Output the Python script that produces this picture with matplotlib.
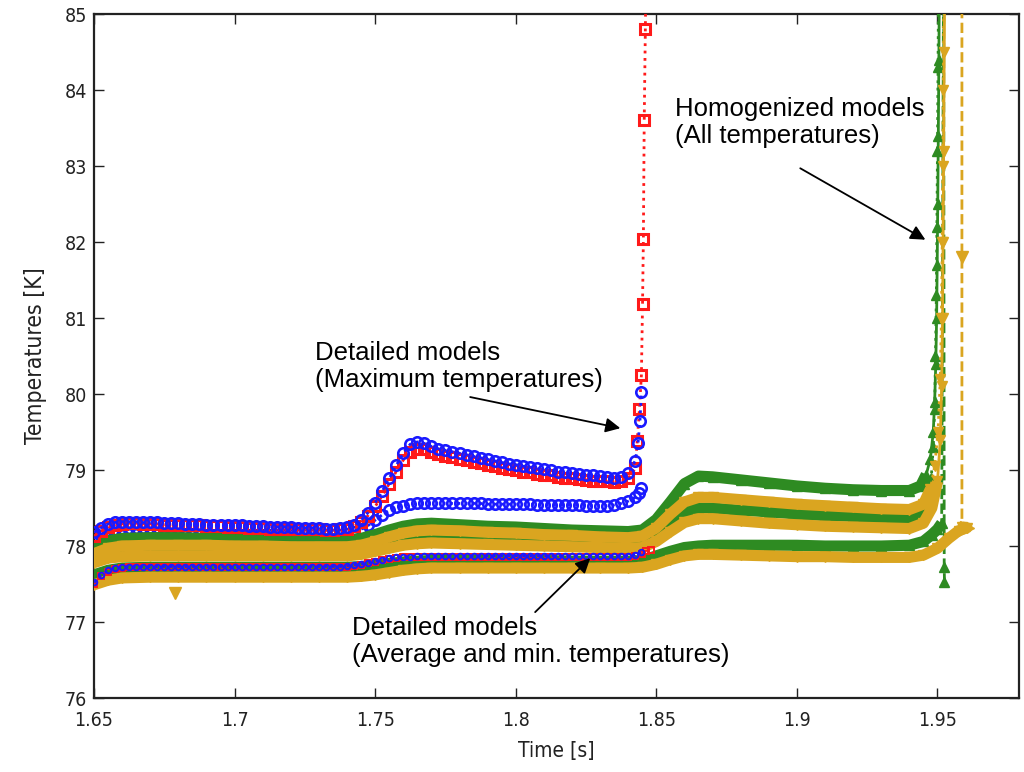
import numpy as np
import matplotlib
matplotlib.use("Agg")
import matplotlib.pyplot as plt

# ---------------- data ----------------
X_TICKS = [1.65, 1.70, 1.75, 1.80, 1.85, 1.90, 1.95]
X_TICK_LABELS = ["1.65", "1.7", "1.75", "1.8", "1.85", "1.9", "1.95"]
Y_TICKS = [76, 77, 78, 79, 80, 81, 82, 83, 84, 85]
Y_TICK_LABELS = ["76", "77", "78", "79", "80", "81", "82", "83", "84", "85"]

# Detailed models, sampled every 2.5 ms from t = 1.65 s
DET_T0 = 1.65
DET_DT = 0.0025

blue_max = [78.18, 78.24, 78.29, 78.31, 78.32,
            78.32, 78.32, 78.31, 78.31, 78.31, 78.30, 78.30, 78.30, 78.29, 78.29,
            78.29, 78.28, 78.28, 78.28, 78.27, 78.27, 78.27, 78.26, 78.26, 78.26,
            78.25, 78.25, 78.25, 78.25, 78.24, 78.24, 78.24, 78.24, 78.23, 78.23, 78.24,
            78.25, 78.28, 78.34, 78.44, 78.57, 78.72, 78.89, 79.06, 79.22, 79.34,
            79.37, 79.35, 79.31,
            79.28, 79.26, 79.24, 79.22, 79.20, 79.18, 79.16, 79.14, 79.12, 79.10,
            79.08, 79.07, 79.05, 79.04, 79.02, 79.01, 79.00, 78.98, 78.97, 78.96,
            78.95, 78.94, 78.93, 78.92, 78.91, 78.90, 78.91, 78.96,
            79.12]
blue_max_tail_t = [1.8435, 1.8442, 1.8447]
blue_max_tail_v = [79.35, 79.65, 80.03]

red_max = [78.13, 78.20, 78.25, 78.28, 78.29,
           78.30, 78.30, 78.29, 78.29, 78.29, 78.28, 78.28, 78.28, 78.27, 78.27,
           78.27, 78.26, 78.26, 78.26, 78.25, 78.25, 78.25, 78.24, 78.24, 78.24,
           78.23, 78.23, 78.23, 78.23, 78.22, 78.22, 78.22, 78.22, 78.21, 78.21, 78.22,
           78.23, 78.26, 78.31, 78.40, 78.52, 78.66, 78.82, 78.98, 79.13, 79.24,
           79.28, 79.27, 79.24,
           79.21, 79.19, 79.17, 79.15, 79.13, 79.11, 79.09, 79.07, 79.05, 79.03,
           79.01, 79.00, 78.98, 78.97, 78.95, 78.94, 78.93, 78.91, 78.90, 78.89,
           78.88, 78.87, 78.86, 78.85, 78.85, 78.84, 78.85, 78.89,
           79.02]
red_max_tail_t = [1.8432, 1.8440, 1.8447, 1.8451, 1.8454, 1.8457, 1.8461, 1.8465]
red_max_tail_v = [79.38, 79.80, 80.25, 81.18, 82.04, 83.60, 84.80, 86.00]

blue_mid = [77.97, 78.06, 78.11, 78.14, 78.15,
            78.16, 78.16, 78.16, 78.16, 78.16, 78.16, 78.16, 78.16, 78.16, 78.16,
            78.15, 78.15, 78.15, 78.15, 78.15, 78.15, 78.15, 78.15, 78.15, 78.15,
            78.15, 78.15, 78.15, 78.15, 78.15, 78.15, 78.15, 78.15, 78.15, 78.15, 78.15,
            78.16, 78.18, 78.22, 78.27, 78.34, 78.41, 78.47, 78.51, 78.53, 78.55,
            78.56, 78.56, 78.56,
            78.56, 78.56, 78.56, 78.56, 78.56, 78.56, 78.56, 78.55, 78.55, 78.55,
            78.55, 78.55, 78.55, 78.55, 78.54, 78.54, 78.54, 78.54, 78.54, 78.54,
            78.54, 78.53, 78.53, 78.53, 78.53, 78.54, 78.56, 78.59,
            78.64]
blue_mid_tail_t = [1.8437, 1.8447]
blue_mid_tail_v = [78.70, 78.76]

blue_low = [77.52, 77.62, 77.68, 77.71, 77.72,
            77.73, 77.73, 77.73, 77.73, 77.73, 77.73, 77.73, 77.73, 77.73, 77.73,
            77.73, 77.73, 77.73, 77.73, 77.73, 77.73, 77.73, 77.73, 77.73, 77.73,
            77.73, 77.73, 77.73, 77.73, 77.73, 77.73, 77.73, 77.73, 77.73, 77.73, 77.73,
            77.74, 77.75, 77.76, 77.78, 77.80, 77.82, 77.84, 77.85, 77.86, 77.86,
            77.87, 77.87, 77.87,
            77.87, 77.87, 77.87, 77.87, 77.87, 77.87, 77.87, 77.87, 77.87, 77.87,
            77.87, 77.87, 77.87, 77.87, 77.87, 77.87, 77.87, 77.87, 77.87, 77.87,
            77.87, 77.87, 77.87, 77.87, 77.87, 77.87, 77.87, 77.87,
            77.88]
blue_low_tail_t = [1.8445]
blue_low_tail_v = [77.92]

red_low = [77.50, 77.60, 77.66, 77.70, 77.71,
           77.72, 77.72, 77.72, 77.72, 77.72, 77.72, 77.72, 77.72, 77.72, 77.72,
           77.72, 77.72, 77.72, 77.72, 77.72, 77.72, 77.72, 77.72, 77.72, 77.72,
           77.72, 77.72, 77.72, 77.72, 77.72, 77.72, 77.72, 77.72, 77.72, 77.72, 77.72,
           77.73, 77.74, 77.75, 77.77, 77.79, 77.81, 77.83, 77.84, 77.85, 77.85,
           77.86, 77.86, 77.86,
           77.86, 77.86, 77.86, 77.86, 77.86, 77.86, 77.86, 77.86, 77.86, 77.86,
           77.86, 77.86, 77.86, 77.86, 77.86, 77.86, 77.86, 77.86, 77.86, 77.86,
           77.86, 77.86, 77.86, 77.86, 77.86, 77.86, 77.86, 77.86,
           77.87]
red_low_tail_t = [1.8450, 1.8465, 1.8480]
red_low_tail_v = [77.90, 77.93, 77.95]

# Homogenized models, shared sample times over the plateau
T_HOM = [1.65, 1.655, 1.66, 1.67, 1.68, 1.69, 1.70, 1.71, 1.72, 1.73, 1.74,
         1.745, 1.75, 1.755, 1.76, 1.765, 1.77, 1.78, 1.79, 1.80, 1.81, 1.82,
         1.83, 1.84, 1.845, 1.85, 1.855, 1.86, 1.865, 1.87, 1.88, 1.89, 1.90,
         1.91, 1.92, 1.93, 1.94]

green_1 = [77.98, 78.07, 78.10, 78.11, 78.11, 78.10, 78.10, 78.09, 78.09, 78.08, 78.08,
           78.10, 78.15, 78.21, 78.26, 78.29, 78.30, 78.28, 78.26, 78.25, 78.23, 78.21,
           78.20, 78.19, 78.21, 78.35, 78.58, 78.82, 78.92, 78.91, 78.87, 78.83, 78.79,
           78.76, 78.74, 78.73, 78.73]
green_1_tail_t = [1.944, 1.946, 1.9475, 1.9485, 1.949, 1.9494, 1.9497, 1.9499,
                  1.9501, 1.9503, 1.9505, 1.9507]
green_1_tail_v = [78.79, 78.94, 79.15, 79.50, 79.90, 80.40, 81.00, 81.70,
                  82.50, 83.40, 84.40, 85.50]

gold_1 = [77.90, 77.97, 78.00, 78.01, 78.01, 78.01, 78.00, 78.00, 77.99, 77.99, 77.99,
          78.01, 78.06, 78.12, 78.17, 78.20, 78.21, 78.20, 78.18, 78.17, 78.15, 78.14,
          78.12, 78.11, 78.13, 78.24, 78.42, 78.58, 78.64, 78.64, 78.61, 78.58, 78.55,
          78.53, 78.51, 78.49, 78.48]
gold_1_tail_t = [1.945, 1.9475, 1.949, 1.9502, 1.951, 1.9514, 1.9517, 1.9519,
                 1.9521, 1.9523]
gold_1_tail_v = [78.55, 78.75, 79.05, 79.50, 80.20, 81.00, 82.00, 83.00,
                 84.00, 85.50]

green_2 = [77.82, 77.88, 77.91, 77.92, 77.92, 77.92, 77.92, 77.92, 77.92, 77.92, 77.92,
           77.94, 77.99, 78.05, 78.10, 78.12, 78.13, 78.12, 78.11, 78.10, 78.09, 78.07,
           78.06, 78.05, 78.07, 78.15, 78.30, 78.44, 78.50, 78.50, 78.47, 78.45, 78.42,
           78.40, 78.39, 78.37, 78.37]
green_2_tail_t = [1.9445, 1.9465, 1.9478, 1.9485, 1.949, 1.9493, 1.9496, 1.9498,
                  1.950, 1.9502, 1.9504]
green_2_tail_v = [78.43, 78.60, 78.90, 79.30, 79.80, 80.50, 81.30, 82.20,
                  83.20, 84.30, 85.50]

gold_2 = [77.78, 77.84, 77.86, 77.87, 77.87, 77.87, 77.87, 77.87, 77.87, 77.87, 77.87,
          77.89, 77.93, 77.97, 78.01, 78.03, 78.04, 78.03, 78.02, 78.01, 78.00, 77.99,
          77.98, 77.97, 77.98, 78.06, 78.19, 78.31, 78.36, 78.36, 78.33, 78.30, 78.28,
          78.26, 78.25, 78.24, 78.23]
gold_2_tail_t = [1.945, 1.948, 1.950, 1.951, 1.9515, 1.9518, 1.952, 1.9522,
                 1.9524, 1.9526]
gold_2_tail_v = [78.30, 78.50, 78.85, 79.40, 80.10, 81.00, 82.00, 83.20,
                 84.50, 85.50]

green_3 = [77.62, 77.68, 77.71, 77.72, 77.72, 77.72, 77.72, 77.72, 77.72, 77.72, 77.72,
           77.73, 77.75, 77.77, 77.79, 77.80, 77.81, 77.81, 77.81, 77.81, 77.81, 77.80,
           77.80, 77.80, 77.81, 77.87, 77.93, 77.98, 78.00, 78.01, 78.01, 78.01, 78.01,
           78.00, 78.00, 78.00, 78.01]
green_3_tail_t = [1.945, 1.948, 1.950, 1.9515, 1.9522, 1.9524, 1.9525]
green_3_tail_v = [78.06, 78.15, 78.22, 78.30, 86.00, 77.72, 77.52]

gold_3 = [77.49, 77.55, 77.58, 77.59, 77.59, 77.59, 77.59, 77.59, 77.59, 77.59, 77.59,
          77.60, 77.62, 77.65, 77.68, 77.70, 77.71, 77.71, 77.71, 77.71, 77.71, 77.71,
          77.71, 77.71, 77.72, 77.76, 77.82, 77.87, 77.89, 77.89, 77.88, 77.87, 77.86,
          77.86, 77.85, 77.85, 77.85]
gold_3_tail_t = [1.945, 1.950, 1.954, 1.9575, 1.9605, 1.9587, 1.9587]
gold_3_tail_v = [77.88, 77.97, 78.10, 78.20, 78.24, 78.25, 86.00]
# sparse symbols of the dashed gold curve
gold_3_marks_t = [1.6788, 1.9587]
gold_3_marks_v = [77.38, 81.80]

# ---------------- style ----------------
RED = "#ff1a1a"
BLUE = "#1a1aff"
GREEN = "#2e8b22"
GOLD = "#daa520"

ANN_FONT = ["Liberation Sans", "Arial", "DejaVu Sans"]
AX_FONT = ["DejaVu Sans"]

fig = plt.figure(figsize=(10.24, 7.72), dpi=100)
ax = fig.add_axes([94 / 1024, 1 - 698 / 772, (1019 - 94) / 1024, (698 - 14) / 772])


def det_series(values, tail_t, tail_v):
    t = list(DET_T0 + DET_DT * np.arange(len(values))) + list(tail_t)
    return np.array(t), np.array(list(values) + list(tail_v))


def hom_series(values, tail_t, tail_v):
    return np.array(T_HOM + list(tail_t)), np.array(list(values) + list(tail_v))


# detailed model, intermediate curve: partly hidden by the homogenized bands
t, v = det_series(blue_mid, blue_mid_tail_t, blue_mid_tail_v)
ax.plot(t, v, color=BLUE, lw=2.0, ls=":", marker="o", ms=7.5, mfc="none", mec=BLUE,
        mew=1.9, zorder=2)

# homogenized models: dense symbols form a thick band, then the run-away branch
hom = [
    (green_1, green_1_tail_t, green_1_tail_v, GREEN, "-", "^"),
    (green_2, green_2_tail_t, green_2_tail_v, GREEN, ":", "^"),
    (green_3, green_3_tail_t, green_3_tail_v, GREEN, "--", "^"),
    (gold_1, gold_1_tail_t, gold_1_tail_v, GOLD, ":", "v"),
    (gold_2, gold_2_tail_t, gold_2_tail_v, GOLD, "-", "v"),
    (gold_3, gold_3_tail_t, gold_3_tail_v, GOLD, "--", "v"),
]
for i, (vals, tt, tv, col, ls, mk) in enumerate(hom):
    t, v = hom_series(vals, tt, tv)
    peak = int(np.argmax(v))
    n_band = 0
    while n_band <= peak and v[n_band] < 78.97:
        n_band += 1
    z = 3 + 0.1 * i
    ax.plot(t[:n_band], v[:n_band], color=col, lw=8.0, solid_capstyle="butt",
            solid_joinstyle="round", zorder=z)
    ax.plot(t, v, color=col, lw=2.0, ls=ls, marker=mk, ms=7.5, mfc=col, mec=col,
            zorder=z + 0.05)

ax.plot(gold_3_marks_t, gold_3_marks_v, ls="none", marker="v", ms=9, color=GOLD,
        zorder=4)
ax.plot([gold_3_tail_t[4]], [gold_3_tail_v[4]], ls="none", marker=">", ms=10,
        color=GOLD, zorder=4)

# detailed models: average / minimum curves
t, v = det_series(red_low, red_low_tail_t, red_low_tail_v)
ax.plot(t, v, color=RED, lw=2.0, ls=":", marker="s", ms=4, mfc="none", mec=RED,
        mew=1.4, zorder=5)
t, v = det_series(blue_low, blue_low_tail_t, blue_low_tail_v)
ax.plot(t, v, color=BLUE, lw=2.0, ls=":", marker="o", ms=4, mfc="none", mec=BLUE,
        mew=1.4, zorder=5.1)

# detailed models: maximum temperatures on top
t, v = det_series(red_max, red_max_tail_t, red_max_tail_v)
ax.plot(t, v, color=RED, lw=2.0, ls=":", marker="s", ms=7, mfc="none", mec=RED,
        mew=2.2, zorder=6)
t, v = det_series(blue_max, blue_max_tail_t, blue_max_tail_v)
ax.plot(t, v, color=BLUE, lw=2.0, ls=":", marker="o", ms=7.5, mfc="none", mec=BLUE,
        mew=1.9, zorder=7)

# ---------------- annotations ----------------
arrow = dict(arrowstyle="-|>", color="black", lw=1.3, mutation_scale=22,
             shrinkA=0, shrinkB=0)

ax.text(1.7287, 80.36, "Detailed models\n(Maximum temperatures)", family=ANN_FONT,
        fontsize=18.5, ha="left", va="center", linespacing=1.15, zorder=10)
ax.annotate("", xy=(1.8372, 79.55), xytext=(1.7838, 79.96), arrowprops=arrow,
            zorder=10)

ax.text(1.8568, 83.57, "Homogenized models\n(All temperatures)", family=ANN_FONT,
        fontsize=18.5, ha="left", va="center", linespacing=1.15, zorder=10)
ax.annotate("", xy=(1.9457, 82.03), xytext=(1.9012, 82.97), arrowprops=arrow,
            zorder=10)

ax.text(1.7418, 76.74, "Detailed models\n(Average and min. temperatures)",
        family=ANN_FONT, fontsize=18.5, ha="left", va="center", linespacing=1.15,
        zorder=10)
ax.annotate("", xy=(1.8265, 77.84), xytext=(1.8069, 77.13), arrowprops=arrow,
            zorder=10)

# ---------------- axes ----------------
ax.set_xlim(1.65, 1.979)
ax.set_ylim(76, 85)
ax.set_xticks(X_TICKS)
ax.set_xticklabels(X_TICK_LABELS)
ax.set_yticks(Y_TICKS)
ax.set_yticklabels(Y_TICK_LABELS)
ax.tick_params(direction="in", length=7, width=1.0, top=True, right=True,
               labelsize=14, colors="#222222")
ax.tick_params(axis="x", pad=9)
ax.tick_params(axis="y", pad=5)
for lab in ax.get_xticklabels() + ax.get_yticklabels():
    lab.set_family(AX_FONT)
    lab.set_fontstretch("condensed")
for s in ax.spines.values():
    s.set_linewidth(1.6)
    s.set_color("#222222")

ax.set_xlabel("Time [s]", family=AX_FONT, fontsize=15, fontstretch="condensed",
              labelpad=8, color="#222222")
ax.set_ylabel("Temperatures [K]", family=AX_FONT, fontsize=16.5,
              fontstretch="condensed", labelpad=13, color="#222222")

fig.savefig("out.png", dpi=100)
